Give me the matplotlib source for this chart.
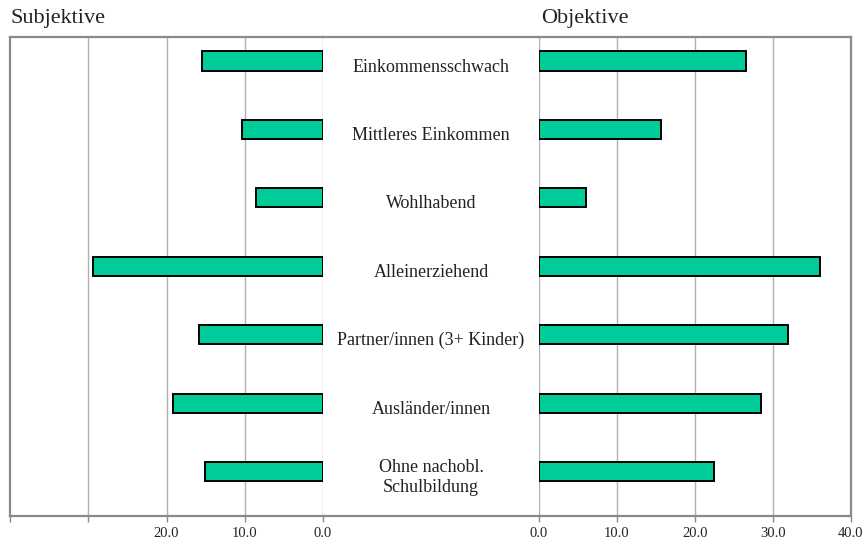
import matplotlib
matplotlib.use("Agg")
import matplotlib.pyplot as plt

plt.rcParams['font.family'] = ['Liberation Serif', 'DejaVu Serif']

categories = [
    "Einkommensschwach",
    "Mittleres Einkommen",
    "Wohlhabend",
    "Alleinerziehend",
    "Partner/innen (3+ Kinder)",
    "Ausländer/innen",
    "Ohne nachobl.\nSchulbildung",
]
subjektiv = [15.5, 10.3, 8.5, 29.4, 15.9, 19.2, 15.1]
objektiv = [26.5, 15.6, 6.0, 36.0, 31.9, 28.5, 22.4]

left_ticks = [40, 30, 20, 10, 0]
left_labels = ["", "", "20.0", "10.0", "0.0"]
right_ticks = [0, 10, 20, 30, 40]
right_labels = ["0.0", "10.0", "20.0", "30.0", "40.0"]

BAR_COLOR = "#00CC99"
FRAME = "#8a8a8a"
GRID = "#b0b0b0"

W, H = 868, 545
fig = plt.figure(figsize=(W / 100, H / 100), dpi=100)

bottom = 1 - 516 / H
height = (516 - 37) / H
ax_l = fig.add_axes([10 / W, bottom, 313 / W, height])
ax_m = fig.add_axes([323 / W, bottom, 216 / W, height])
ax_r = fig.add_axes([539 / W, bottom, 312 / W, height])

ypos = [i - 0.15 for i in range(len(categories))]

for ax in (ax_l, ax_m, ax_r):
    ax.set_ylim(len(categories) - 0.5, -0.5)
    ax.set_yticks([])
    for side in ("top", "bottom"):
        ax.spines[side].set_color(FRAME)
        ax.spines[side].set_linewidth(1.6)
    ax.spines["left"].set_visible(False)
    ax.spines["right"].set_visible(False)

# left panel (reversed)
ax_l.set_xlim(40, 0)
ax_l.barh(ypos, subjektiv, height=0.28, color=BAR_COLOR, edgecolor="black",
          linewidth=1.4, zorder=3)
for v in [30, 20, 10, 0]:
    ax_l.axvline(v, color=GRID, linewidth=1, zorder=1)
ax_l.spines["left"].set_visible(True)
ax_l.spines["left"].set_color(FRAME)
ax_l.spines["left"].set_linewidth(1.6)
ax_l.set_xticks(left_ticks)
ax_l.set_xticklabels(left_labels)

# right panel
ax_r.set_xlim(0, 40)
ax_r.barh(ypos, objektiv, height=0.28, color=BAR_COLOR, edgecolor="black",
          linewidth=1.4, zorder=3)
for v in [0, 10, 20, 30]:
    ax_r.axvline(v, color=GRID, linewidth=1, zorder=1)
ax_r.spines["right"].set_visible(True)
ax_r.spines["right"].set_color(FRAME)
ax_r.spines["right"].set_linewidth(1.6)
ax_r.set_xticks(right_ticks)
ax_r.set_xticklabels(right_labels)

for ax in (ax_l, ax_r):
    ax.tick_params(axis="x", direction="out", length=4, width=1, color=FRAME,
                   labelsize=10.5, pad=4, labelcolor="#222222")

# middle labels
ax_m.set_xlim(0, 1)
ax_m.set_xticks([])
for i, name in enumerate(categories):
    ax_m.text(0.5, i - 0.06, name, ha="center", va="center", fontsize=13,
              color="#222222", linespacing=1.25)

fig.text(10 / W, 1 - 19 / H, "Subjektive", ha="left", va="center",
         fontsize=16, color="#222222")
fig.text(541 / W, 1 - 19 / H, "Objektive", ha="left", va="center",
         fontsize=16, color="#222222")

fig.savefig("out.png", dpi=100)
